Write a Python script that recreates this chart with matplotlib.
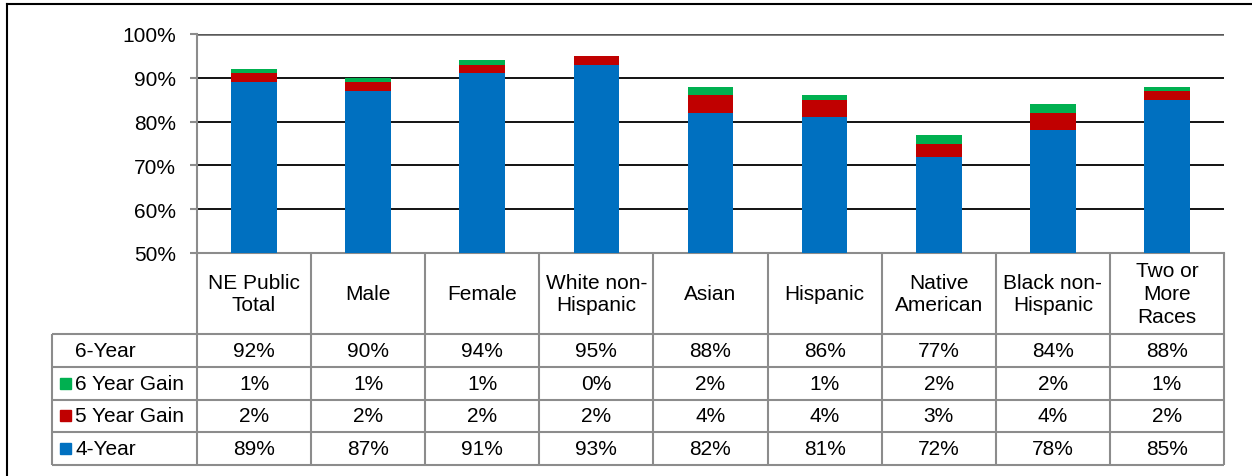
import numpy as np
import matplotlib
matplotlib.use('Agg')
import matplotlib.pyplot as plt
from matplotlib.lines import Line2D
from matplotlib.patches import Rectangle
from matplotlib.ticker import PercentFormatter

plt.rcParams['font.family'] = ['Liberation Sans', 'DejaVu Sans']

categories = ['NE Public\nTotal', 'Male', 'Female', 'White non-\nHispanic', 'Asian',
              'Hispanic', 'Native\nAmerican', 'Black non-\nHispanic', 'Two or\nMore\nRaces']
four_year = [89, 87, 91, 93, 82, 81, 72, 78, 85]
gain_5 = [2, 2, 2, 2, 4, 4, 3, 4, 2]
gain_6 = [1, 1, 1, 0, 2, 1, 2, 2, 1]
six_year = [92, 90, 94, 95, 88, 86, 77, 84, 88]
row_labels = ['6-Year', '6 Year Gain', '5 Year Gain', '4-Year']

BLUE, RED, GREEN = '#0070C0', '#C00000', '#00B050'
GRAY = '#8c8c8c'
W, H = 1252, 477
FS = 15


def px(x0, y0, x1, y1):
    return [x0 / W, 1 - y1 / H, (x1 - x0) / W, (y1 - y0) / H]


fig = plt.figure(figsize=(W / 100, H / 100), dpi=100)

# bars
ax = fig.add_axes(px(197, 35, 1224, 254))
x = np.arange(len(categories))
mid = [a + b for a, b in zip(four_year, gain_5)]
ax.bar(x, four_year, 0.4, color=BLUE, zorder=3)
ax.bar(x, gain_5, 0.4, bottom=four_year, color=RED, zorder=3)
ax.bar(x, gain_6, 0.4, bottom=mid, color=GREEN, zorder=3)
ax.set_xlim(-0.5, len(categories) - 0.5)
ax.set_ylim(50, 100)
ax.set_yticks(range(50, 101, 10))
ax.yaxis.set_major_formatter(PercentFormatter(xmax=100, decimals=0))
ax.set_xticks([])
ax.tick_params(axis='y', length=5, width=1.5, color=GRAY, pad=10, labelsize=FS)
ax.grid(axis='y', color='black', lw=1.3, zorder=1)
ax.get_ygridlines()[-1].set_color('#595959')
ax.get_ygridlines()[-1].set_linewidth(1.8)
for s in ['top', 'right']:
    ax.spines[s].set_visible(False)
for s in ['left', 'bottom']:
    ax.spines[s].set_color(GRAY)
    ax.spines[s].set_linewidth(1.5)

# data table
n = len(categories)
left = -0.5 - (197 - 52) / ((1224 - 197) / n)
hdr = 81 / 32.75
tab = fig.add_axes(px(52, 254, 1224, 466))
tab.set_xlim(left, n - 0.5)
tab.set_ylim(hdr + 4, 0)
tab.axis('off')

for k in range(5):
    tab.hlines(hdr + k, left, n - 0.5, color=GRAY, lw=1.5, clip_on=False)
tab.vlines(left, hdr, hdr + 4, color=GRAY, lw=1.5, clip_on=False)
for k in range(n + 1):
    tab.vlines(k - 0.5, 0, hdr + 4, color=GRAY, lw=1.5, clip_on=False)

for i, c in enumerate(categories):
    tab.text(i, hdr / 2, c, ha='center', va='center', fontsize=FS, linespacing=1.25)

rows = [six_year, gain_6, gain_5, four_year]
marks = [None, GREEN, RED, BLUE]
cw = (1224 - 197) / n
for r, (lab, vals, col) in enumerate(zip(row_labels, rows, marks)):
    yc = hdr + r + 0.5
    tab.text(left + 23 / cw, yc, lab, ha='left', va='center', fontsize=FS)
    if col:
        tab.add_patch(Rectangle((left + 8 / cw, yc - 5.5 / 32.75), 11 / cw, 11 / 32.75,
                                color=col, clip_on=False))
    for i, v in enumerate(vals):
        tab.text(i, yc, f'{v}%', ha='center', va='center', fontsize=FS)

# outer frame
fig.add_artist(Line2D([7 / W, 7 / W], [0, 1 - 5 / H], color='black', lw=1.5))
fig.add_artist(Line2D([7 / W, 1], [1 - 5 / H, 1 - 5 / H], color='black', lw=1.5))

fig.savefig('out.png', dpi=100)
